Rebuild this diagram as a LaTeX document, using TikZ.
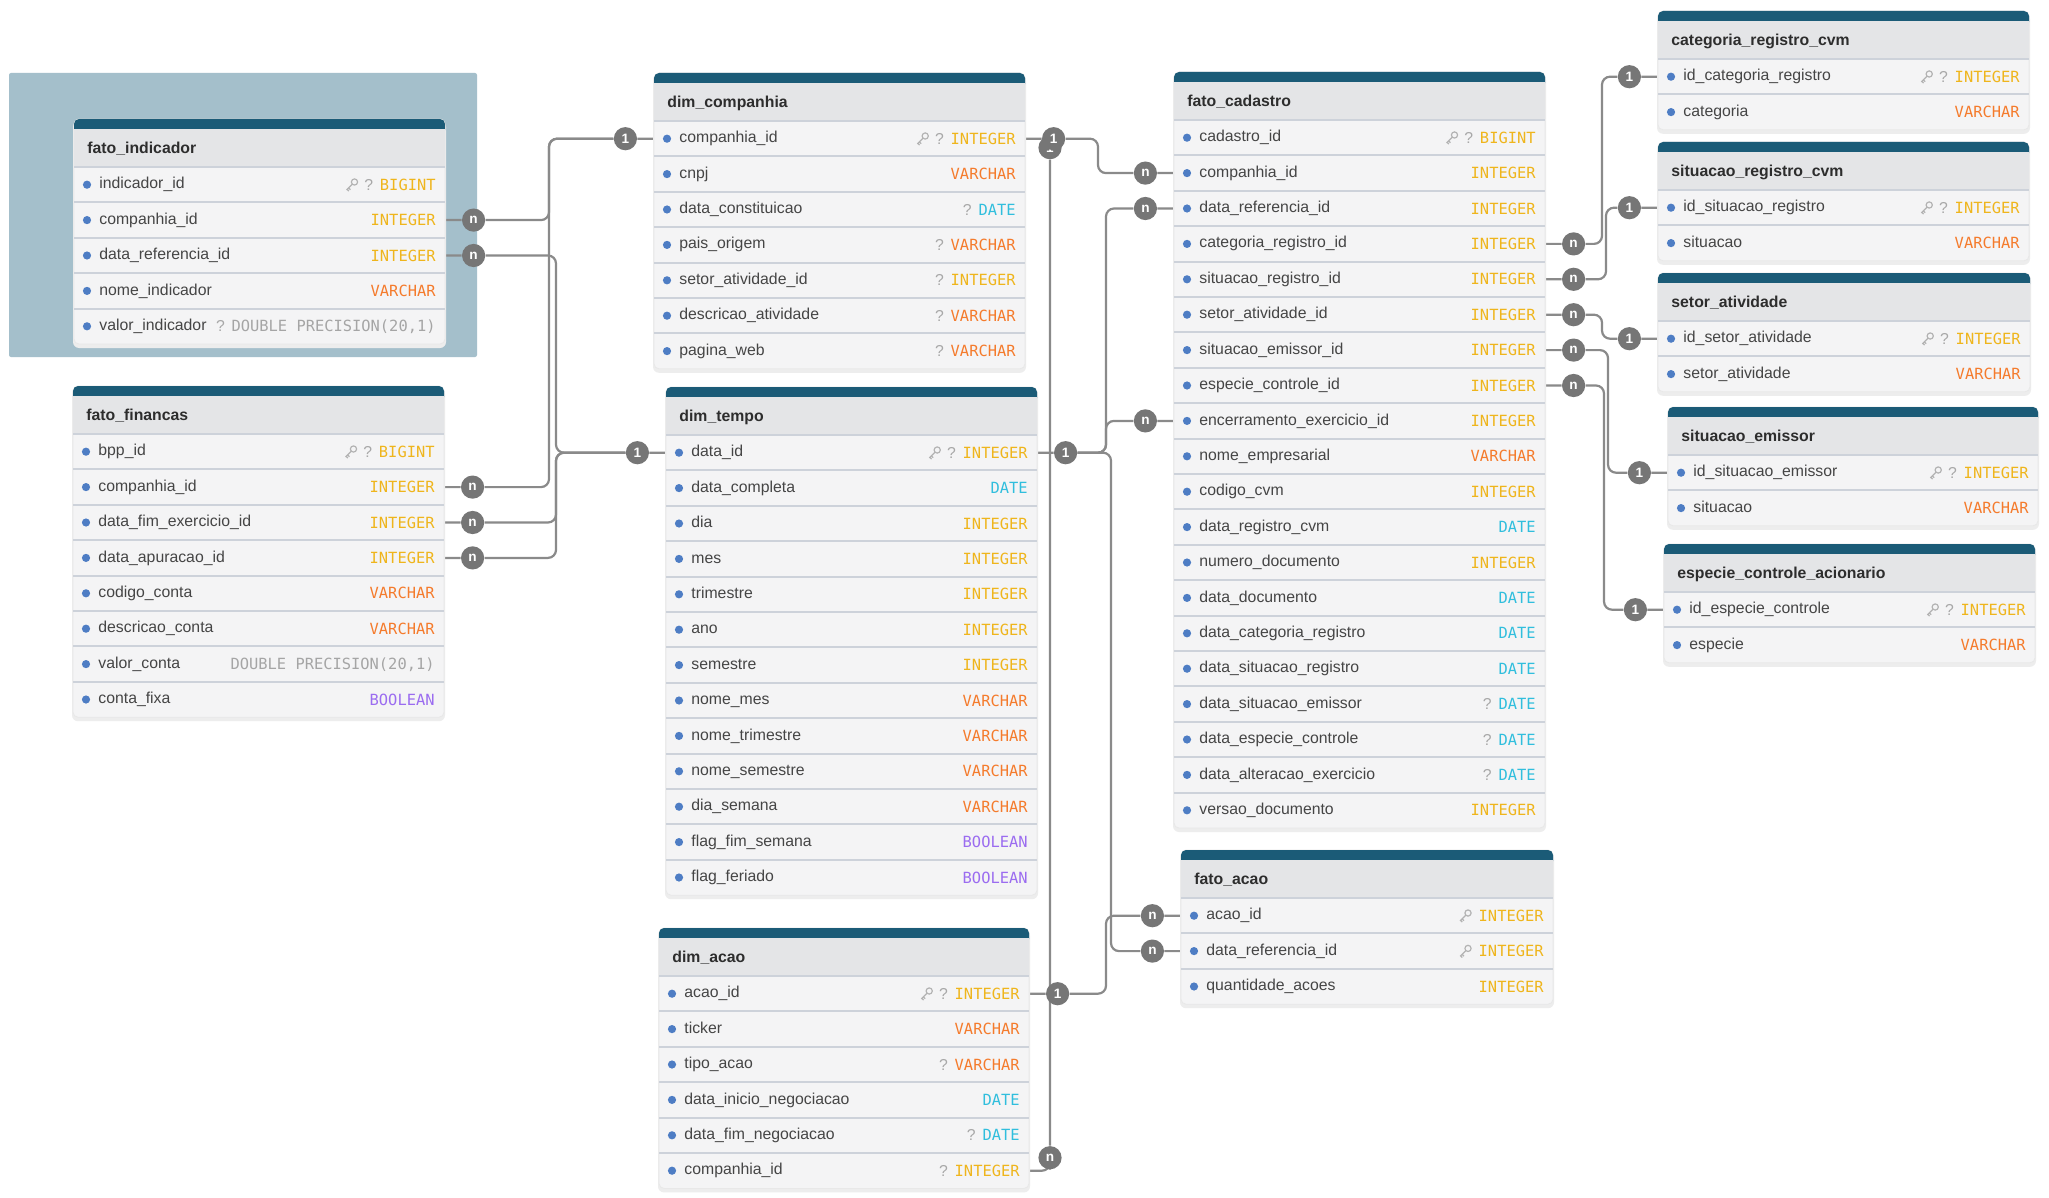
\documentclass[tikz,border=0pt]{standalone}
\usepackage{fontspec}
\setmainfont{Liberation Sans}
\setmonofont{DejaVu Sans Mono}
\usetikzlibrary{positioning}
\definecolor{grpblue}{HTML}{A4BFCB}
\definecolor{barblue}{HTML}{1B5B77}
\definecolor{headbg}{HTML}{E4E5E7}
\definecolor{rowbg}{HTML}{F4F4F5}
\definecolor{sepgray}{HTML}{CDD2DA}
\definecolor{ttlgray}{HTML}{2D2D2D}
\definecolor{namegray}{HTML}{454545}
\definecolor{dotblue}{HTML}{4E7DC4}
\definecolor{tint}{HTML}{EFB51C}
\definecolor{tvar}{HTML}{F47B2C}
\definecolor{tdate}{HTML}{30BEDD}
\definecolor{tbool}{HTML}{9B6CF0}
\definecolor{tdbl}{HTML}{A5A5A5}
\definecolor{qgray}{HTML}{A8A8A8}
\definecolor{keygray}{HTML}{B3B3B3}
\definecolor{badgegray}{HTML}{767676}
\definecolor{linegray}{HTML}{8A8A8A}
\pgfdeclarelayer{back}
\pgfdeclarelayer{bg}
\pgfsetlayers{back,bg,main}
\tikzset {
  node distance={8.3pt},
  % table parts
  tshade/.style={fill=black!7, rounded corners=3pt},
  tbody/.style={fill=rowbg, draw=black!9, line width=0.4pt, rounded corners=2.5pt},
  tbar/.style={fill=barblue, rounded corners=2.5pt},
  thead/.style={fill=headbg},
  rowcell/.style={inner sep=0pt, outer sep=0pt, minimum height=17.7pt},
  sepline/.style={draw=sepgray, line width=1pt},
  % texts
  ttl/.style={inner sep=0pt, text=ttlgray, font=\bfseries\fontsize{7.9}{9}\selectfont},
  fname/.style={inner sep=0pt, text=namegray, font=\fontsize{7.9}{9}\selectfont, text height=5.7pt, text depth=1.6pt},
  ftype/.style={inner sep=0pt, font=\ttfamily\fontsize{7.7}{9}\selectfont, text height=5.6pt, text depth=0pt},
  qmark/.style={ftype, text=qgray, font=\fontsize{7.9}{9}\selectfont},
  % relation markers and lines
  badge/.style={circle, fill=badgegray, text=white, inner sep=0pt, minimum size=11.6pt, font=\bfseries\fontsize{6.8}{7}\selectfont},
  rel/.style={draw=linegray, line width=1.1pt, rounded corners=4pt},
  keyic/.pic={
    \draw[keygray, line width=0.6pt] (2.7,-2.7) circle (3.1);
    \draw[keygray, line width=0.6pt] (0.5,-0.5) -- (-5.2,5.2) (-3.2,3.2) -- (-1.4,5) (-4.7,4.7) -- (-3,6.4);
  },
}
% flags in front of a type
\newcommand{\flagn}[1]{}
\newcommand{\flagq}[1]{\node[qmark, anchor=east] (#1-q) at ([xshift=-3pt]#1-ty.west) {?};}
\newcommand{\flagkq}[1]{\flagq{#1}\pic at ([xshift=-8.5pt]#1-q.center) {keyic};}
\newcommand{\flagk}[1]{\pic at ([xshift=-6.5pt]#1-ty.west) {keyic};}
% id, x, top, width, rows, title, fields
\newcommand{\dbtable}[7]{
  \fill[tshade] (#2-1,#3+2) rectangle ({#2+#4+1},{#3+48+#5*35.4+4});
  \path[tbody] (#2,#3) rectangle ({#2+#4},{#3+48+#5*35.4});
  \path[tbar] (#2,#3) rectangle ({#2+#4},#3+16);
  \path[thead] (#2,#3+10) rectangle ({#2+#4},#3+48);
  \node[ttl, anchor=west] (#1) at (#2+13,#3+30) {#6};
  \foreach \nm/\ty/\tc/\pk [count=\i] in {#7} {
    \node[rowcell, minimum width=#4*0.5pt, anchor=west] (#1-\i) at (#2,{#3+48+(\i-0.5)*35.4}) {};
    \draw[sepline] (#1-\i.north west) -- (#1-\i.north east);
    \fill[dotblue] ([xshift=6.5pt]#1-\i.west) circle (4.1);
    \node[fname, anchor=west] (#1-\i-nm) at ([xshift=12.5pt]#1-\i.west) {\nm};
    \node[ftype, text=\tc, anchor=east] (#1-\i-ty) at ([xshift=-4.5pt]#1-\i.east) {\ty};
    \csname flag\pk\endcsname{#1-\i}
  }
}

\begin{document}
\catcode`\_=12
\begin{tikzpicture}[x=0.5pt, y=-0.5pt]
  \useasboundingbox (0,0) rectangle (2049,1198);
  \begin{pgfonlayer}{back}
    \fill[white] (0,0) rectangle (2049,1198);
    \fill[grpblue, rounded corners=1pt] (9,73) rectangle (477,357);
  \end{pgfonlayer}

  \dbtable{fi}{74}{119}{371}{5}{fato_indicador}{
    indicador_id/BIGINT/tint/kq,
    companhia_id/INTEGER/tint/n,
    data_referencia_id/INTEGER/tint/n,
    nome_indicador/VARCHAR/tvar/n,
    valor_indicador/{DOUBLE PRECISION(20,1)}/tdbl/q}
  \dbtable{ff}{73}{386}{371}{8}{fato_financas}{
    bpp_id/BIGINT/tint/kq,
    companhia_id/INTEGER/tint/n,
    data_fim_exercicio_id/INTEGER/tint/n,
    data_apuracao_id/INTEGER/tint/n,
    codigo_conta/VARCHAR/tvar/n,
    descricao_conta/VARCHAR/tvar/n,
    valor_conta/{DOUBLE PRECISION(20,1)}/tdbl/n,
    conta_fixa/BOOLEAN/tbool/n}
  \dbtable{dc}{654}{73}{371}{7}{dim_companhia}{
    companhia_id/INTEGER/tint/kq,
    cnpj/VARCHAR/tvar/n,
    data_constituicao/DATE/tdate/q,
    pais_origem/VARCHAR/tvar/q,
    setor_atividade_id/INTEGER/tint/q,
    descricao_atividade/VARCHAR/tvar/q,
    pagina_web/VARCHAR/tvar/q}
  \dbtable{dt}{666}{387}{371}{13}{dim_tempo}{
    data_id/INTEGER/tint/kq,
    data_completa/DATE/tdate/n,
    dia/INTEGER/tint/n,
    mes/INTEGER/tint/n,
    trimestre/INTEGER/tint/n,
    ano/INTEGER/tint/n,
    semestre/INTEGER/tint/n,
    nome_mes/VARCHAR/tvar/n,
    nome_trimestre/VARCHAR/tvar/n,
    nome_semestre/VARCHAR/tvar/n,
    dia_semana/VARCHAR/tvar/n,
    flag_fim_semana/BOOLEAN/tbool/n,
    flag_feriado/BOOLEAN/tbool/n}
  \dbtable{da}{659}{928}{370}{6}{dim_acao}{
    acao_id/INTEGER/tint/kq,
    ticker/VARCHAR/tvar/n,
    tipo_acao/VARCHAR/tvar/q,
    data_inicio_negociacao/DATE/tdate/n,
    data_fim_negociacao/DATE/tdate/q,
    companhia_id/INTEGER/tint/q}
  \dbtable{fc}{1174}{72}{371}{20}{fato_cadastro}{
    cadastro_id/BIGINT/tint/kq,
    companhia_id/INTEGER/tint/n,
    data_referencia_id/INTEGER/tint/n,
    categoria_registro_id/INTEGER/tint/n,
    situacao_registro_id/INTEGER/tint/n,
    setor_atividade_id/INTEGER/tint/n,
    situacao_emissor_id/INTEGER/tint/n,
    especie_controle_id/INTEGER/tint/n,
    encerramento_exercicio_id/INTEGER/tint/n,
    nome_empresarial/VARCHAR/tvar/n,
    codigo_cvm/INTEGER/tint/n,
    data_registro_cvm/DATE/tdate/n,
    numero_documento/INTEGER/tint/n,
    data_documento/DATE/tdate/n,
    data_categoria_registro/DATE/tdate/n,
    data_situacao_registro/DATE/tdate/n,
    data_situacao_emissor/DATE/tdate/q,
    data_especie_controle/DATE/tdate/q,
    data_alteracao_exercicio/DATE/tdate/q,
    versao_documento/INTEGER/tint/n}
  \dbtable{fa}{1181}{850}{372}{3}{fato_acao}{
    acao_id/INTEGER/tint/k,
    data_referencia_id/INTEGER/tint/k,
    quantidade_acoes/INTEGER/tint/n}
  \dbtable{cr}{1658}{11}{371}{2}{categoria_registro_cvm}{
    id_categoria_registro/INTEGER/tint/kq,
    categoria/VARCHAR/tvar/n}
  \dbtable{sr}{1658}{142}{371}{2}{situacao_registro_cvm}{
    id_situacao_registro/INTEGER/tint/kq,
    situacao/VARCHAR/tvar/n}
  \dbtable{sa}{1658}{273}{372}{2}{setor_atividade}{
    id_setor_atividade/INTEGER/tint/kq,
    setor_atividade/VARCHAR/tvar/n}
  \dbtable{se}{1668}{407}{370}{2}{situacao_emissor}{
    id_situacao_emissor/INTEGER/tint/kq,
    situacao/VARCHAR/tvar/n}
  \dbtable{ec}{1664}{544}{371}{2}{especie_controle_acionario}{
    id_especie_controle/INTEGER/tint/kq,
    especie/VARCHAR/tvar/n}

  % cardinality markers
  \node[badge, right=of fi-2] (fiN2) {n};
  \node[badge, right=of fi-3] (fiN3) {n};
  \node[badge, right=of ff-2] (ffN2) {n};
  \node[badge, right=of ff-3] (ffN3) {n};
  \node[badge, right=of ff-4] (ffN4) {n};
  \node[badge, left=of dc-1] (dcL) {1};
  \node[badge, left=of dt-1] (dtL) {1};
  \node[badge] (dcR2) at ([xshift=12.5pt, yshift=-4.5pt]dc-1.east) {1};
  \node[badge, right=of dc-1] (dcR) {1};
  \node[badge, right=of dt-1] (dtR) {1};
  \node[badge, right=of da-1] (daR) {1};
  \node[badge] (daN) at ([xshift=10.5pt, yshift=6.5pt]da-6.east) {n};
  \node[badge, left=of fc-2] (fcN2) {n};
  \node[badge, left=of fc-3] (fcN3) {n};
  \node[badge, left=of fc-9] (fcN9) {n};
  \node[badge, left=of fa-1] (faN1) {n};
  \node[badge, left=of fa-2] (faN2) {n};
  \node[badge, right=of fc-4] (fcR4) {n};
  \node[badge, right=of fc-5] (fcR5) {n};
  \node[badge, right=of fc-6] (fcR6) {n};
  \node[badge, right=of fc-7] (fcR7) {n};
  \node[badge, right=of fc-8] (fcR8) {n};
  \node[badge, left=of cr-1] (crL) {1};
  \node[badge, left=of sr-1] (srL) {1};
  \node[badge, left=of sa-1] (saL) {1};
  \node[badge, left=of se-1] (seL) {1};
  \node[badge, left=of ec-1] (ecL) {1};

  % vertical runs of the connectors
  \coordinate (busA) at (549,0);
  \coordinate (busB) at (556,0);
  \coordinate (busC) at (1098,0);
  \coordinate (busD) at (1106,0);
  \coordinate (busE) at (1111,0);
  \coordinate (busF) at (1602,0);
  \coordinate (busG) at (1606,0);
  \coordinate (busH) at (1604,0);
  \coordinate (busI) at (1608,0);

  \begin{pgfonlayer}{bg}
    \draw[rel] (fi-2) -- (fiN2) -- (fiN2 -| busA) |- (dcL) -- (dc-1);
    \draw[rel] (ff-2) -- (ffN2) -- (ffN2 -| busA) |- (dcL);
    \draw[rel] (fi-3) -- (fiN3) -- (fiN3 -| busB) |- (dtL) -- (dt-1);
    \draw[rel] (ff-3) -- (ffN3) -- (ffN3 -| busB) |- (dtL);
    \draw[rel] (ff-4) -- (ffN4) -- (ffN4 -| busB) |- (dtL);

    \draw[rel] (dc-1) -- (dcR) -- (dcR -| busC) |- (fcN2) -- (fc-2);
    \draw[rel] (da-6) -| (daN) -- (dcR2);
    \draw[rel] (dt-1) -- (dtR) -- (dtR -| busD) |- (fcN3) -- (fc-3);
    \draw[rel] (dtR) -- (dtR -| busD) |- (fcN9) -- (fc-9);
    \draw[rel] (dtR) -- (dtR -| busE) |- (faN2) -- (fa-2);
    \draw[rel] (da-1) -- (daR) -- (daR -| busD) |- (faN1) -- (fa-1);

    \draw[rel] (fc-4) -- (fcR4) -- (fcR4 -| busF) |- (crL) -- (cr-1);
    \draw[rel] (fc-5) -- (fcR5) -- (fcR5 -| busG) |- (srL) -- (sr-1);
    \draw[rel] (fc-6) -- (fcR6) -- (fcR6 -| busF) |- (saL) -- (sa-1);
    \draw[rel] (fc-7) -- (fcR7) -- (fcR7 -| busI) |- (seL) -- (se-1);
    \draw[rel] (fc-8) -- (fcR8) -- (fcR8 -| busH) |- (ecL) -- (ec-1);
  \end{pgfonlayer}
\end{tikzpicture}
\end{document}
